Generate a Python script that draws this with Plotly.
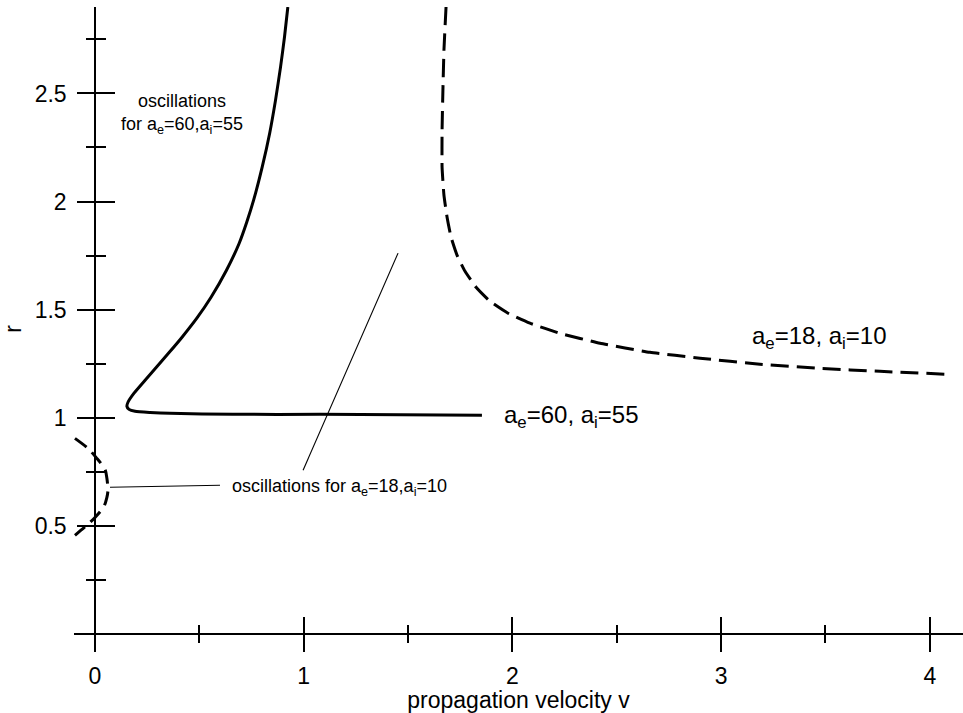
import plotly.graph_objects as go

# ---- data ----
v_60 = [0.924, 0.908, 0.889, 0.865, 0.837, 0.801, 0.760, 0.727, 0.691, 0.630, 0.556, 0.488, 0.417, 0.356,
        0.294, 0.240, 0.187, 0.158, 0.153, 0.163, 0.192, 0.264, 0.359, 0.661, 1.078, 1.854]
r_60 = [2.900, 2.761, 2.622, 2.469, 2.316, 2.159, 2.006, 1.904, 1.807, 1.682, 1.557, 1.460, 1.372, 1.302,
        1.233, 1.173, 1.113, 1.071, 1.052, 1.038, 1.029, 1.024, 1.020, 1.015, 1.015, 1.011]

v_18 = [1.682, 1.672, 1.667, 1.663, 1.663, 1.672, 1.687, 1.706, 1.735, 1.773, 1.826, 1.893, 1.979, 2.084,
        2.228, 2.420, 2.659, 2.899, 3.186, 3.474, 3.761, 4.097]
r_18 = [2.900, 2.700, 2.515, 2.330, 2.159, 2.029, 1.927, 1.835, 1.751, 1.677, 1.603, 1.538, 1.483, 1.437,
        1.390, 1.344, 1.302, 1.275, 1.247, 1.228, 1.214, 1.200]

v_18_osc = [-0.096, -0.034, 0.005, 0.048, 0.057, 0.062, 0.057, 0.043, 0.000, -0.034, -0.096]
r_18_osc = [0.904, 0.858, 0.816, 0.761, 0.719, 0.663, 0.631, 0.589, 0.538, 0.506, 0.455]

leader1_v = [1.452, 0.997]
leader1_r = [1.761, 0.756]
leader2_v = [0.072, 0.599]
leader2_r = [0.678, 0.687]

x_ticks = [0, 1, 2, 3, 4]
x_tick_labels = ["0", "1", "2", "3", "4"]
x_minor = [0.5, 1.5, 2.5, 3.5]
y_ticks = [0.5, 1, 1.5, 2, 2.5]
y_tick_labels = ["0.5", "1", "1.5", "2", "2.5"]
y_minor = [0.25, 0.75, 1.25, 1.75, 2.25, 2.75]

XR = [-0.1006, 4.159]
YR = [-0.08, 2.90]

FONT = "Liberation Sans, Arial, Helvetica, sans-serif"
pos_yaxis = (0 - XR[0]) / (XR[1] - XR[0])
pos_xaxis = (0 - YR[0]) / (YR[1] - YR[0])

fig = go.Figure()
fig.add_trace(go.Scatter(x=v_60, y=r_60, mode="lines", line=dict(color="black", width=3, shape="spline", smoothing=0.5),
                         showlegend=False, hoverinfo="skip"))
fig.add_trace(go.Scatter(x=v_18, y=r_18, mode="lines", line=dict(color="black", width=3, dash="18px,8px", shape="spline", smoothing=0.4),
                         showlegend=False, hoverinfo="skip"))
fig.add_trace(go.Scatter(x=v_18_osc, y=r_18_osc, mode="lines", line=dict(color="black", width=3, dash="14px,8px", shape="spline", smoothing=0.8),
                         showlegend=False, hoverinfo="skip"))
fig.add_trace(go.Scatter(x=leader1_v, y=leader1_r, mode="lines", line=dict(color="black", width=1.1),
                         showlegend=False, hoverinfo="skip"))
fig.add_trace(go.Scatter(x=leader2_v, y=leader2_r, mode="lines", line=dict(color="black", width=1.1),
                         showlegend=False, hoverinfo="skip"))
# empty trace to activate the overlay axes (inner half of the crossing ticks)
fig.add_trace(go.Scatter(x=[], y=[], xaxis="x2", yaxis="y2", showlegend=False, hoverinfo="skip"))

ann_small = dict(size=18, color="black", family=FONT)
ann_big = dict(size=24, color="black", family=FONT)
fig.add_annotation(x=0.417, y=2.404, text="oscillations<br>for a<sub>e</sub>=60,a<sub>i</sub>=55",
                   showarrow=False, font=ann_small, align="center", xanchor="center", yanchor="middle")
fig.add_annotation(x=1.95, y=1.005, text="a<sub>e</sub>=60, a<sub>i</sub>=55",
                   showarrow=False, font=ann_big, xanchor="left", yanchor="middle")
fig.add_annotation(x=3.14, y=1.37, text="a<sub>e</sub>=18, a<sub>i</sub>=10",
                   showarrow=False, font=ann_big, xanchor="left", yanchor="middle")
fig.add_annotation(x=0.647, y=0.675, text="oscillations for a<sub>e</sub>=18,a<sub>i</sub>=10",
                   showarrow=False, font=ann_small, xanchor="left", yanchor="middle")

tick_font = dict(size=23, color="black", family=FONT)
common = dict(showgrid=False, zeroline=False, automargin=False)

fig.update_layout(
    width=963, height=713,
    margin=dict(l=74, r=0, t=7, b=62),
    paper_bgcolor="white", plot_bgcolor="white",
    font=dict(family=FONT, color="black"),
    xaxis=dict(range=XR, anchor="free", position=pos_xaxis, showline=True, linecolor="black", linewidth=1.5,
               ticks="outside", ticklen=18, tickwidth=1.5, tickcolor="black",
               tickmode="array", tickvals=x_ticks, ticktext=x_tick_labels, tickfont=tick_font,
               ticklabelstandoff=4,
               minor=dict(ticks="outside", ticklen=9, tickwidth=1.5, tickcolor="black", tickvals=x_minor, showgrid=False),
               title=dict(text="propagation velocity v", font=dict(size=23, family=FONT, color="black"), standoff=5),
               **common),
    yaxis=dict(range=YR, anchor="free", position=pos_yaxis, showline=True, linecolor="black", linewidth=1.5,
               ticks="outside", ticklen=17, tickwidth=1.5, tickcolor="black",
               tickmode="array", tickvals=y_ticks, ticktext=y_tick_labels, tickfont=tick_font,
               ticklabelstandoff=6,
               minor=dict(ticks="outside", ticklen=8, tickwidth=1.5, tickcolor="black", tickvals=y_minor, showgrid=False),
               title=dict(text="r", font=dict(size=23, family=FONT, color="black"), standoff=8),
               **common),
    xaxis2=dict(range=XR, overlaying="x", anchor="free", position=pos_xaxis, showline=False,
                ticks="inside", ticklen=17, tickwidth=1.5, tickcolor="black",
                tickmode="array", tickvals=x_ticks, showticklabels=False,
                minor=dict(ticks="inside", ticklen=9, tickwidth=1.5, tickcolor="black", tickvals=x_minor, showgrid=False),
                **common),
    yaxis2=dict(range=YR, overlaying="y", anchor="free", position=pos_yaxis, showline=False,
                ticks="inside", ticklen=19, tickwidth=1.5, tickcolor="black",
                tickmode="array", tickvals=y_ticks, showticklabels=False,
                minor=dict(ticks="inside", ticklen=10, tickwidth=1.5, tickcolor="black", tickvals=y_minor, showgrid=False),
                **common),
)

fig.write_html("out.html")
